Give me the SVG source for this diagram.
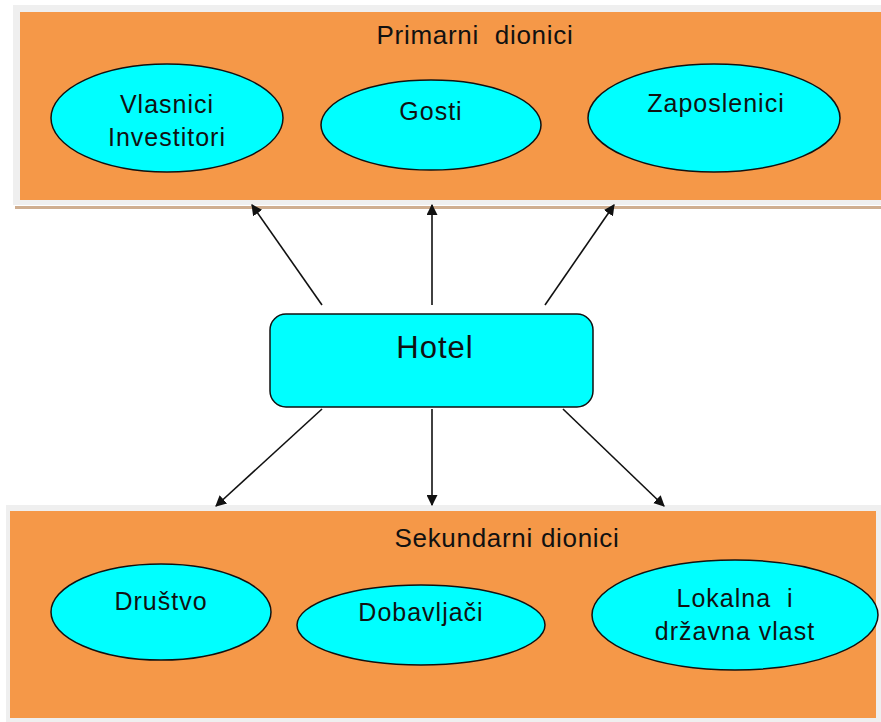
<svg xmlns="http://www.w3.org/2000/svg" width="881" height="722" viewBox="0 0 881 722">
<defs>
<style>
.frame{fill:#efefef}
.band{fill:#f59848}
.ell{fill:#00ffff;stroke:#111;stroke-width:1.5}
.t{font-family:"Liberation Sans",Arial,sans-serif;fill:#111;text-anchor:middle}
.lbl{font-size:25px;letter-spacing:1px}
.title{font-size:26px;letter-spacing:0.7px}
.conn{stroke:#111;stroke-width:1.6;fill:none;marker-end:url(#ah)}
</style>
<marker id="ah" viewBox="0 0 10 10" refX="9" refY="5" markerWidth="11" markerHeight="11" markerUnits="userSpaceOnUse" orient="auto">
<path d="M0,0 L10,5 L0,10 z" fill="#111"/>
</marker>
</defs>
<rect width="881" height="722" fill="#fff"/>
<g id="primary">
<rect class="frame" x="13" y="5" width="868" height="200"/>
<rect class="band" x="20" y="12" width="861" height="188"/>
<rect x="15" y="206" width="866" height="3" fill="#cfae90"/>
<text class="t title" x="475" y="44" xml:space="preserve">Primarni  dionici</text>
</g>
<g id="vlasnici">
<ellipse class="ell" cx="167" cy="118" rx="116" ry="54"/>
<text class="t lbl" x="167" y="113">Vlasnici</text>
<text class="t lbl" x="167" y="146">Investitori</text>
</g>
<g id="gosti">
<ellipse class="ell" cx="431" cy="125" rx="110" ry="45"/>
<text class="t lbl" x="431" y="120">Gosti</text>
</g>
<g id="zaposlenici">
<ellipse class="ell" cx="714" cy="118" rx="126" ry="54"/>
<text class="t lbl" x="716" y="112">Zaposlenici</text>
</g>
<g id="hotel">
<rect x="270" y="314" width="323" height="93" rx="16" fill="#00ffff" stroke="#111" stroke-width="1.5"/>
<text class="t" x="435" y="358" font-size="31" letter-spacing="1">Hotel</text>
</g>
<g id="secondary">
<rect class="frame" x="6" y="505" width="875" height="217"/>
<rect class="band" x="10" y="511" width="866" height="207"/>
<text class="t title" x="507" y="547">Sekundarni dionici</text>
</g>
<g id="drustvo">
<ellipse class="ell" cx="161" cy="612" rx="110" ry="48"/>
<text class="t lbl" x="161" y="610">Društvo</text>
</g>
<g id="dobavljaci">
<ellipse class="ell" cx="421" cy="625" rx="124" ry="40"/>
<text class="t lbl" x="421" y="621">Dobavljači</text>
</g>
<g id="vlast">
<ellipse class="ell" cx="735" cy="615" rx="143" ry="55"/>
<text class="t lbl" x="735" y="607" xml:space="preserve">Lokalna  i</text>
<text class="t lbl" x="735" y="640">državna vlast</text>
</g>
<g id="connectors">
<line class="conn" x1="322" y1="305" x2="252" y2="205"/>
<line class="conn" x1="432" y1="305" x2="432" y2="205"/>
<line class="conn" x1="545" y1="305" x2="614" y2="205"/>
<line class="conn" x1="322" y1="409" x2="216" y2="506"/>
<line class="conn" x1="432" y1="409" x2="432" y2="505"/>
<line class="conn" x1="563" y1="409" x2="664" y2="506"/>
</g>
</svg>
